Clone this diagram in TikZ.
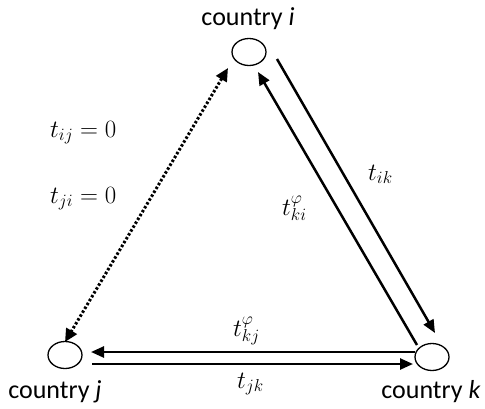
\documentclass[tikz,border=0pt]{standalone}
\usepackage{fontspec}
\setmainfont{Carlito}
\usetikzlibrary{arrows.meta,shapes.geometric}
\begin{document}
\begin{tikzpicture}[x=1pt,y=-1pt,
  country/.style={draw,ellipse,line width=1.3pt,minimum width=34pt,minimum height=27pt,inner sep=0pt},
  ctext/.style={font=\fontsize{26}{30}\selectfont,anchor=base,inner sep=0pt},
  mlabel/.style={font=\fontsize{26}{30}\selectfont,anchor=base west,inner sep=0pt},
  flow/.style={line width=2.5pt,-{Triangle[length=13pt,width=11pt]}},
  dotflow/.style={line width=3pt,dash pattern=on 2.5pt off 2pt,{Triangle[length=13pt,width=12pt]}-{Triangle[length=13pt,width=12pt]}}]
\useasboundingbox (0,0) rectangle (485,408);
\node[country] (ni) at (249,52) {};
\node[country] (nj) at (65,355) {};
\node[country] (nk) at (432,357) {};
\node[ctext] (li) at (248,25) {country \textit{i}};
\node[ctext] (lj) at (55,398) {country \textit{j}};
\node[ctext] (lk) at (431,398) {country \textit{k}};
% endpoints
\coordinate (dA) at (228,68);
\coordinate (dB) at (65,342);
\coordinate (ikS) at (277,59);
\coordinate (ikE) at (435,333);
\coordinate (kiS) at (417,345);
\coordinate (kiE) at (258,72);
\coordinate (kjS) at (415,352);
\coordinate (kjE) at (91,352);
\coordinate (jkS) at (92,364);
\coordinate (jkE) at (413,364);
\draw[dotflow] (dA) -- (dB);
\draw[flow] (ikS) -- (ikE);
\draw[flow] (kiS) -- (kiE);
\draw[flow] (kjS) -- (kjE);
\draw[flow] (jkS) -- (jkE);
\node[mlabel] (tij) at (50,137) {$t_{ij}=0$};
\node[mlabel] (tji) at (50,203) {$t_{ji}=0$};
\node[mlabel] (tik) at (368,180) {$t_{ik}$};
\node[mlabel] (tki) at (282,215) {$t_{ki}^{\varphi}$};
\node[mlabel] (tkj) at (233,336) {$t_{kj}^{\varphi}$};
\node[mlabel] (tjk) at (237,388) {$t_{jk}$};
\end{tikzpicture}
\end{document}
